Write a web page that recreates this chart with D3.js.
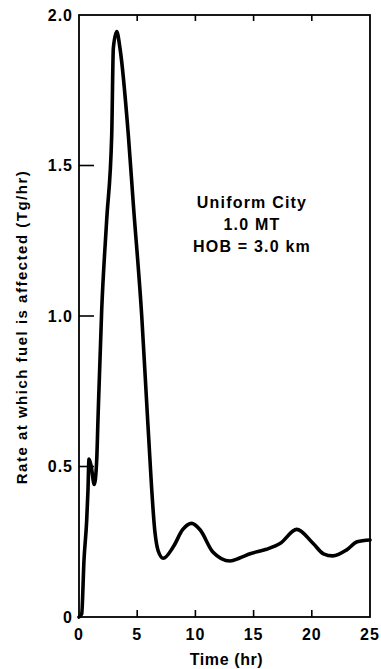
<!DOCTYPE html>
<html>
<head>
<meta charset="utf-8">
<script src="https://cdn.jsdelivr.net/npm/d3@7/dist/d3.min.js"></script>
<style>
  html, body { margin: 0; padding: 0; background: #fff; }
  svg { display: block; }
  text { font-family: "Liberation Sans", Arial, sans-serif; font-weight: bold; fill: #000; }
</style>
</head>
<body>
<svg id="chart" width="381" height="669"></svg>
<script>
// Time since detonation (hr)
const timeHr = [0, 0.23, 0.43, 0.66, 0.77, 0.86, 1.05, 1.31, 1.52, 1.63, 1.95, 2.38, 2.81, 2.95, 3.24, 3.52,
  4.24, 4.66, 5.39, 5.92, 6.53, 6.8, 7.24, 8.1, 8.9, 9.68, 10.4, 11.5, 12.97, 13.8, 14.7,
  16.1, 17.3, 18.7, 20.1, 21.0, 21.8, 23.0, 23.9, 25];
// Rate at which fuel is affected (Tg/hr)
const fuelRate = [0, 0.01, 0.19, 0.32, 0.42, 0.525, 0.5, 0.44, 0.52, 0.655, 1.02, 1.32, 1.6, 1.89, 1.945, 1.89,
  1.6, 1.375, 1.0, 0.64, 0.28, 0.22, 0.195, 0.233, 0.29, 0.311, 0.29, 0.216, 0.186, 0.196, 0.21,
  0.225, 0.245, 0.291, 0.245, 0.21, 0.203, 0.223, 0.25, 0.256];

const xTicks = [0, 5, 10, 15, 20, 25];
const yTicks = [0, 0.5, 1.0, 1.5, 2.0];
const yTickLabels = ["0", "0.5", "1.0", "1.5", "2.0"];
const noteLines = ["Uniform City", "1.0 MT", "HOB = 3.0 km"];

const svg = d3.select("#chart");
const plotLeft = 79, plotRight = 370, plotTop = 15, plotBottom = 617;

const x = d3.scaleLinear().domain([0, 25]).range([plotLeft, plotRight]);
const y = d3.scaleLinear().domain([0, 2]).range([plotBottom, plotTop]);

// frame
svg.append("rect")
  .attr("x", plotLeft).attr("y", plotTop)
  .attr("width", plotRight - plotLeft).attr("height", plotBottom - plotTop)
  .attr("fill", "none").attr("stroke", "#000").attr("stroke-width", 1.8);

const innerX = xTicks.filter(d => d > 0 && d < 25);
const innerY = yTicks.filter(d => d > 0 && d < 2);
const ticks = svg.append("g").attr("stroke", "#000").attr("stroke-width", 1.6);

// inward ticks along the bottom and top edges
ticks.append("g").selectAll("line").data(innerX).join("line")
  .attr("x1", d => x(d)).attr("x2", d => x(d))
  .attr("y1", plotBottom).attr("y2", plotBottom - 7);
ticks.append("g").selectAll("line").data(innerX).join("line")
  .attr("x1", d => x(d)).attr("x2", d => x(d))
  .attr("y1", plotTop).attr("y2", plotTop + 6);

// inward ticks along the left edge
ticks.append("g").selectAll("line").data(innerY).join("line")
  .attr("x1", plotLeft).attr("x2", plotLeft + 15)
  .attr("y1", d => y(d)).attr("y2", d => y(d));

// tick labels
svg.append("g").selectAll("text").data(xTicks).join("text")
  .attr("x", d => x(d)).attr("y", 640)
  .attr("text-anchor", "middle")
  .style("font-size", "16px").style("letter-spacing", "1px")
  .text(d => d3.format("d")(d));

svg.append("g").selectAll("text").data(yTicks).join("text")
  .attr("x", 73).attr("y", d => y(d))
  .attr("dy", "0.36em")
  .attr("text-anchor", "end")
  .style("font-size", "16px").style("letter-spacing", "1px")
  .text((d, i) => yTickLabels[i]);

// axis titles
svg.append("text")
  .attr("x", (plotLeft + plotRight) / 2 + 2).attr("y", 665)
  .attr("text-anchor", "middle").style("font-size", "16px").style("letter-spacing", "0.6px")
  .text("Time (hr)");

svg.append("text")
  .attr("transform", `translate(27,327) rotate(-90)`)
  .attr("text-anchor", "middle").style("font-size", "15px").style("letter-spacing", "1.5px")
  .text("Rate at which fuel is affected (Tg/hr)");

// annotation
svg.append("g").selectAll("text").data(noteLines).join("text")
  .attr("x", 252).attr("y", (d, i) => 208 + i * 22)
  .attr("text-anchor", "middle").style("font-size", "16px").style("letter-spacing", "1.2px")
  .text(d => d);

// rate curve
const line = d3.line()
  .x((d, i) => x(timeHr[i]))
  .y(d => y(d))
  .curve(d3.curveMonotoneX);

svg.append("path")
  .datum(fuelRate)
  .attr("d", line)
  .attr("fill", "none")
  .attr("stroke", "#000")
  .attr("stroke-width", 3.6)
  .attr("stroke-linejoin", "round")
  .attr("stroke-linecap", "round");
</script>
</body>
</html>
